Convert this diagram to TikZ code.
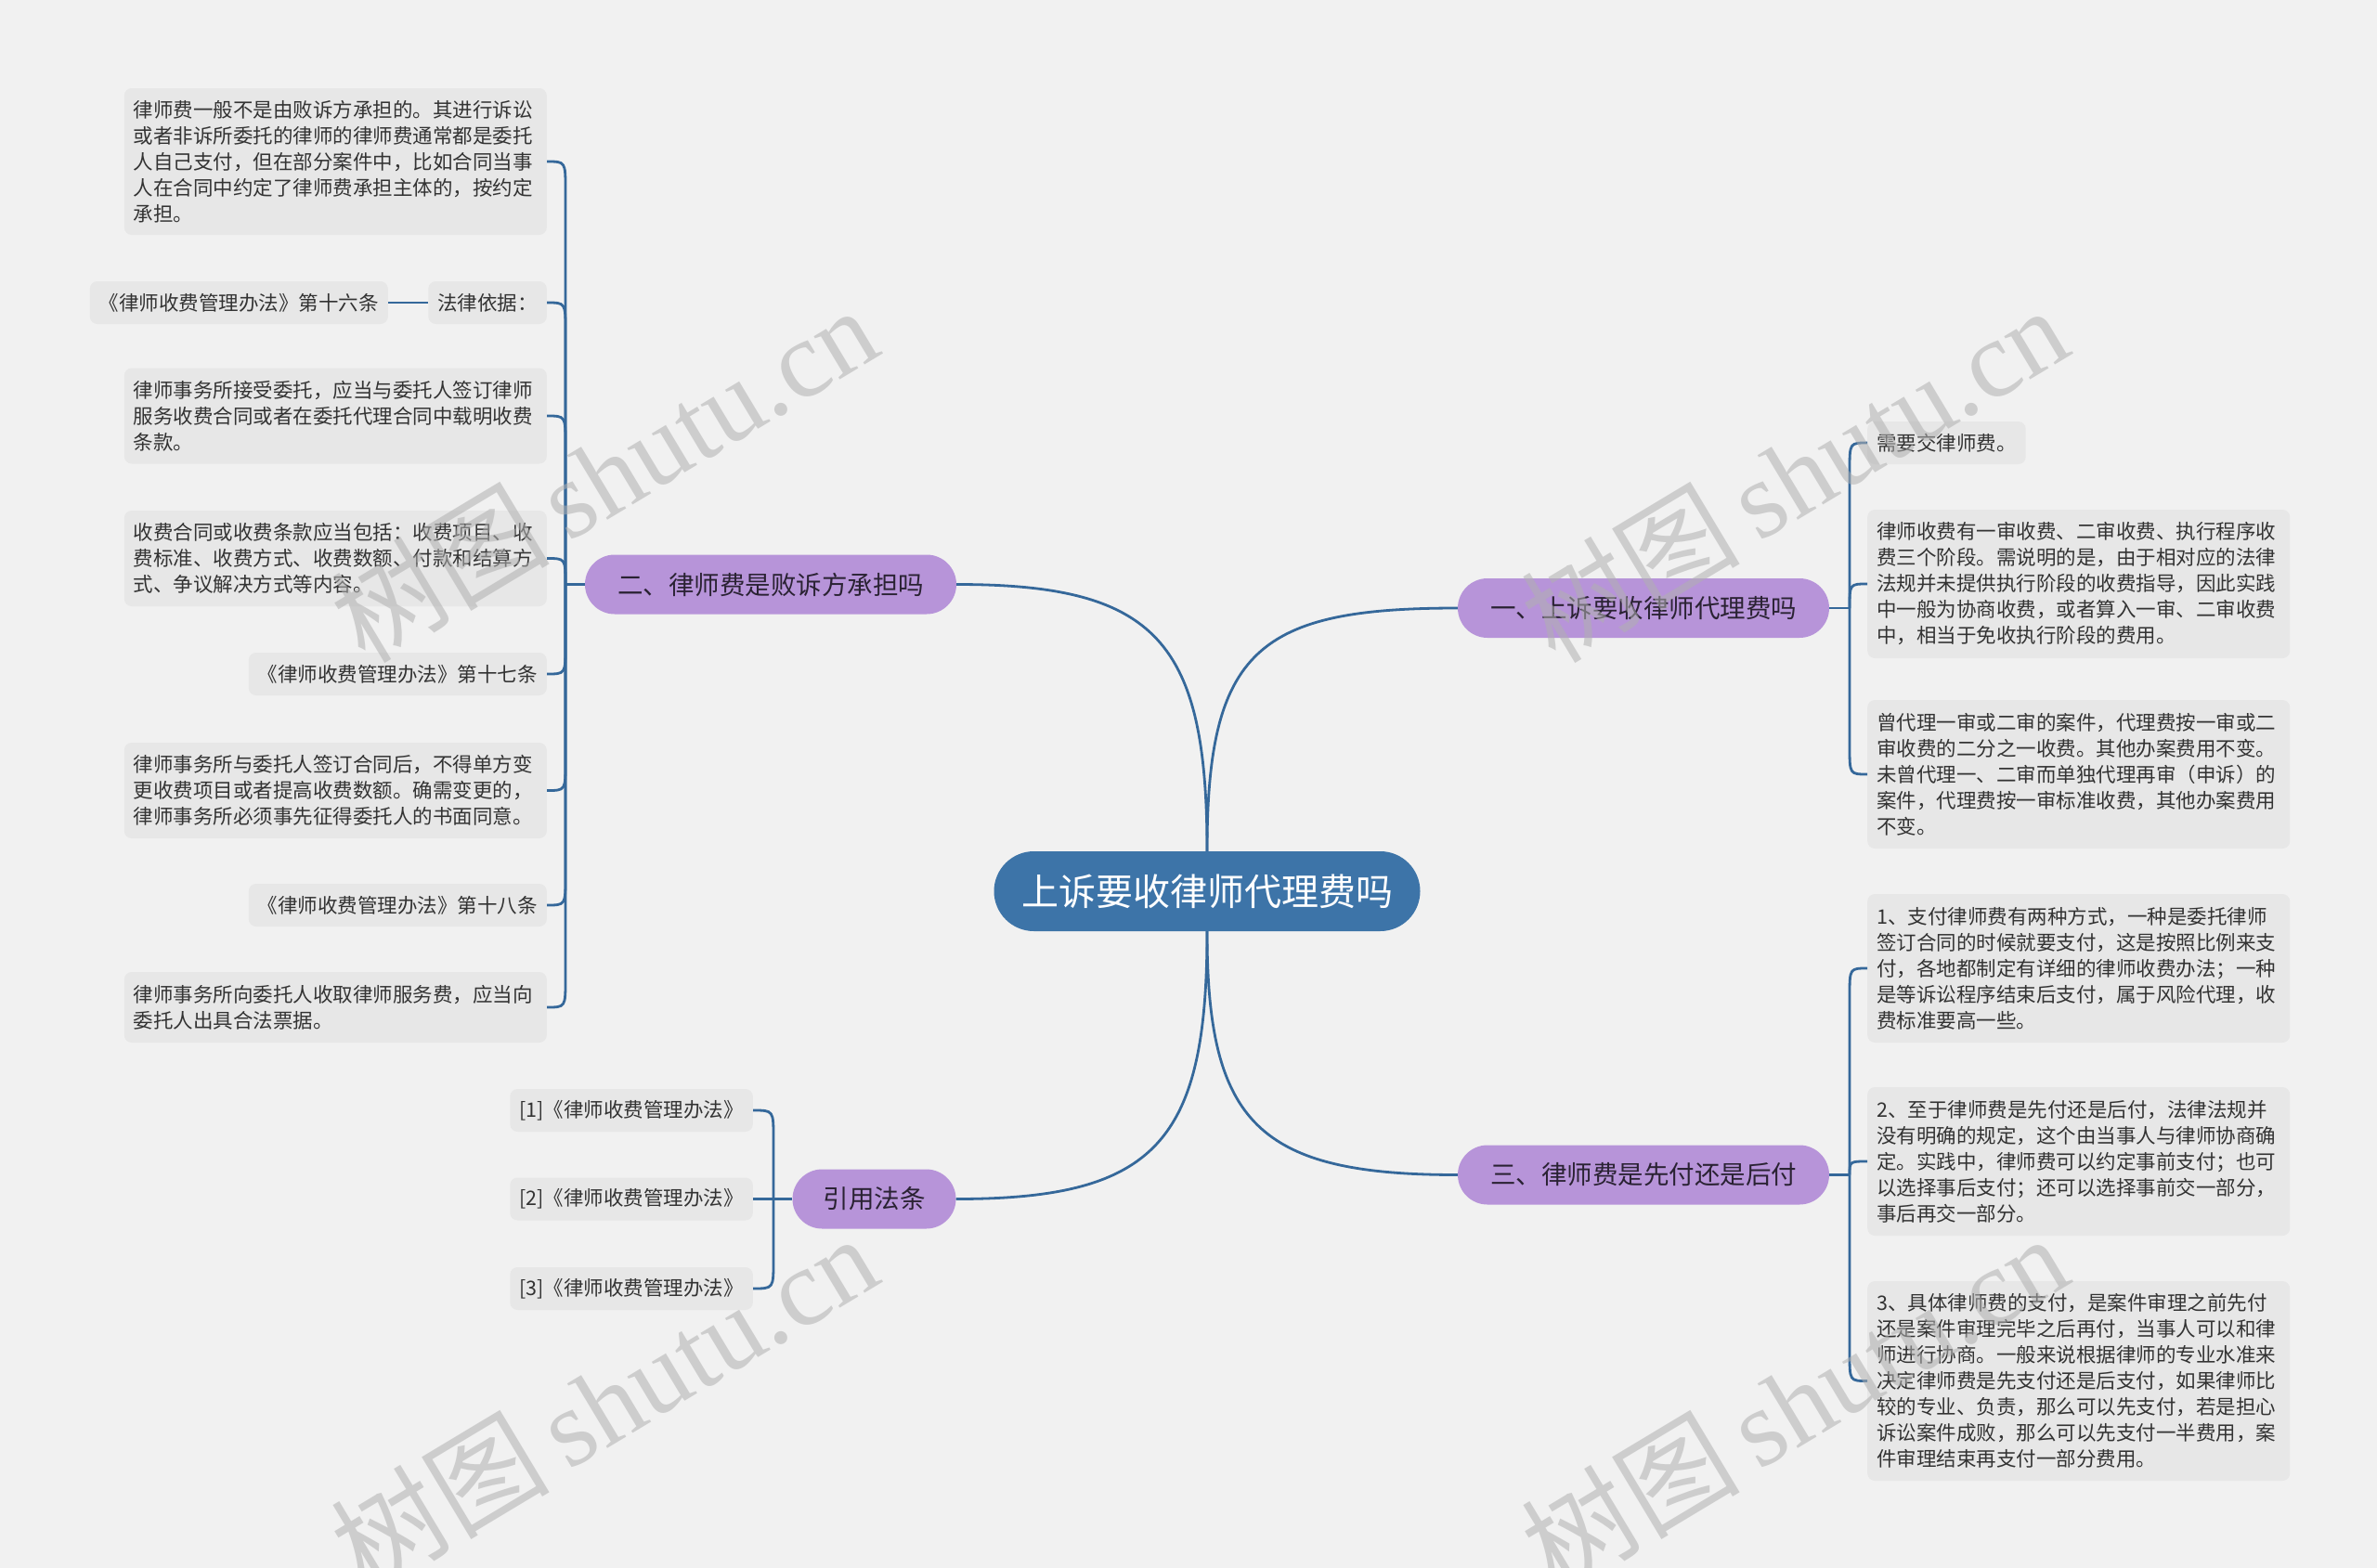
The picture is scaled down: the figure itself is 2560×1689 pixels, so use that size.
\documentclass[tikz,border=0pt]{standalone}
\usepackage{fontspec}
\setmainfont{Noto Sans CJK SC}
\newfontfamily\wmserif{Liberation Serif}
\usetikzlibrary{calc}
\definecolor{bg}{HTML}{F1F1F1}
\definecolor{leafc}{HTML}{E7E7E7}
\definecolor{linec}{HTML}{35689A}
\definecolor{rootc}{HTML}{3D74A8}
\definecolor{branchc}{HTML}{B794D9}
\definecolor{txt}{HTML}{333333}
\definecolor{btxt}{HTML}{2A2233}
\definecolor{wm}{HTML}{B0B0B0}
\newcommand\leafhook[2]{%
  \draw[conn] let \p1=(#1), \p2=(#2), \n1={sign(\y1-\y2)*min(30,abs(\y1-\y2))} in
    (\p1) -- (\x1,{\y2+\n1*1pt}) .. controls (\x1,\y2) .. (\p2);}
\begin{document}
\begin{tikzpicture}[x=1pt,y=-1pt,
  leaf/.style={fill=leafc, rounded corners=8pt, text=txt, font=\fontsize{21.5}{28}\selectfont, inner xsep=10pt, inner ysep=0pt, align=left},
  multi/.style={text width=435pt},
  one/.style={minimum height=46pt},
  branch/.style={fill=branchc, rounded corners=32pt, minimum width=400pt, minimum height=64pt, text=btxt, font=\fontsize{27.5}{33}\selectfont, inner sep=0pt},
  root/.style={fill=rootc, rounded corners=43pt, minimum width=459pt, minimum height=86pt, text=white, font=\fontsize{40}{48}\selectfont, inner sep=0pt},
  conn/.style={draw=linec, line width=2.8pt},
  wmark/.style={rotate=31, text=wm, opacity=0.55, font=\fontsize{118}{118}\selectfont, inner sep=0pt},
]
\useasboundingbox (0,0) rectangle (2560,1689);
\fill[bg] (0,0) rectangle (2560,1689);

% root and branches
\node[root] (c) at (1300,960) {上诉要收律师代理费吗};
\node[branch] (b1) at (1770,655) {一、上诉要收律师代理费吗};
\node[branch] (b2) at (830,629.5) {二、律师费是败诉方承担吗};
\node[branch] (b3) at (1770,1265.5) {三、律师费是先付还是后付};
\node[branch, minimum width=176pt] (b4) at (941.5,1291.5) {引用法条};

% left leaves
\node[leaf,multi,minimum height=158pt,anchor=east] (l1) at (589,174) {律师费一般不是由败诉方承担的。其进行诉讼\\或者非诉所委托的律师的律师费通常都是委托\\人自己支付，但在部分案件中，比如合同当事\\人在合同中约定了律师费承担主体的，按约定\\承担。};
\node[leaf,one,anchor=east] (l2) at (589,326) {法律依据：};
\node[leaf,one,anchor=east] (l2b) at (418,326) {《律师收费管理办法》第十六条};
\node[leaf,multi,minimum height=103pt,anchor=east] (l3) at (589,448) {律师事务所接受委托，应当与委托人签订律师\\服务收费合同或者在委托代理合同中载明收费\\条款。};
\node[leaf,multi,minimum height=103pt,anchor=east] (l4) at (589,601.5) {收费合同或收费条款应当包括：收费项目、收\\费标准、收费方式、收费数额、付款和结算方\\式、争议解决方式等内容。};
\node[leaf,one,anchor=east] (l5) at (589,726) {《律师收费管理办法》第十七条};
\node[leaf,multi,minimum height=103pt,anchor=east] (l6) at (589,851.5) {律师事务所与委托人签订合同后，不得单方变\\更收费项目或者提高收费数额。确需变更的，\\律师事务所必须事先征得委托人的书面同意。};
\node[leaf,one,anchor=east] (l7) at (589,975) {《律师收费管理办法》第十八条};
\node[leaf,multi,minimum height=76pt,anchor=east] (l8) at (589,1085) {律师事务所向委托人收取律师服务费，应当向\\委托人出具合法票据。};

% citations
\node[leaf,one,anchor=east] (k1) at (811,1196) {[1]《律师收费管理办法》};
\node[leaf,one,anchor=east] (k2) at (811,1291.5) {[2]《律师收费管理办法》};
\node[leaf,one,anchor=east] (k3) at (811,1388) {[3]《律师收费管理办法》};

% right leaves
\node[leaf,one,anchor=west] (r1) at (2011,477) {需要交律师费。};
\node[leaf,multi,minimum height=160pt,anchor=west] (r2) at (2011,629) {律师收费有一审收费、二审收费、执行程序收\\费三个阶段。需说明的是，由于相对应的法律\\法规并未提供执行阶段的收费指导，因此实践\\中一般为协商收费，或者算入一审、二审收费\\中，相当于免收执行阶段的费用。};
\node[leaf,multi,minimum height=160pt,anchor=west] (r3) at (2011,834) {曾代理一审或二审的案件，代理费按一审或二\\审收费的二分之一收费。其他办案费用不变。\\未曾代理一、二审而单独代理再审（申诉）的\\案件，代理费按一审标准收费，其他办案费用\\不变。};
\node[leaf,multi,minimum height=160pt,anchor=west] (r4) at (2011,1043) {1、支付律师费有两种方式，一种是委托律师\\签订合同的时候就要支付，这是按照比例来支\\付，各地都制定有详细的律师收费办法；一种\\是等诉讼程序结束后支付，属于风险代理，收\\费标准要高一些。};
\node[leaf,multi,minimum height=160pt,anchor=west] (r5) at (2011,1251) {2、至于律师费是先付还是后付，法律法规并\\没有明确的规定，这个由当事人与律师协商确\\定。实践中，律师费可以约定事前支付；也可\\以选择事后支付；还可以选择事前交一部分，\\事后再交一部分。};
\node[leaf,multi,minimum height=215pt,anchor=west] (r6) at (2011,1487.5) {3、具体律师费的支付，是案件审理之前先付\\还是案件审理完毕之后再付，当事人可以和律\\师进行协商。一般来说根据律师的专业水准来\\决定律师费是先支付还是后支付，如果律师比\\较的专业、负责，那么可以先支付，若是担心\\诉讼案件成败，那么可以先支付一半费用，案\\件审理结束再支付一部分费用。};

% root connectors
\draw[conn] (c.north) .. controls (1300,690) and (1245,629.5) .. (b2.east);
\draw[conn] (c.north) .. controls (1300,700) and (1355,655) .. (b1.west);
\draw[conn] (c.south) .. controls (1300,1230) and (1245,1291.5) .. (b4.east);
\draw[conn] (c.south) .. controls (1300,1210) and (1355,1265.5) .. (b3.west);

% brackets
\coordinate (j1) at (1992,655);
\coordinate (j2) at (609,629.5);
\coordinate (j3) at (1992,1265.5);
\coordinate (j4) at (833,1291.5);
\draw[conn] (b1.east) -- (j1);
\draw[conn] (b2.west) -- (j2);
\draw[conn] (b3.east) -- (j3);
\draw[conn] (b4.west) -- (j4);
\foreach \nd in {l1,l2,l3,l4,l5,l6,l7,l8} {\leafhook{j2}{\nd.east}}
\foreach \nd in {r1,r2,r3} {\leafhook{j1}{\nd.west}}
\foreach \nd in {r4,r5,r6} {\leafhook{j3}{\nd.west}}
\foreach \nd in {k1,k2,k3} {\leafhook{j4}{\nd.east}}
\draw[conn] (l2.west) -- (l2b.east);

% watermarks
\node[wmark] (w1) at (650,510) {树图\,{\wmserif shutu.cn}};
\node[wmark] (w2) at (1932,510) {树图\,{\wmserif shutu.cn}};
\node[wmark] (w3) at (650,1510) {树图\,{\wmserif shutu.cn}};
\node[wmark] (w4) at (1932,1510) {树图\,{\wmserif shutu.cn}};
\end{tikzpicture}
\end{document}
